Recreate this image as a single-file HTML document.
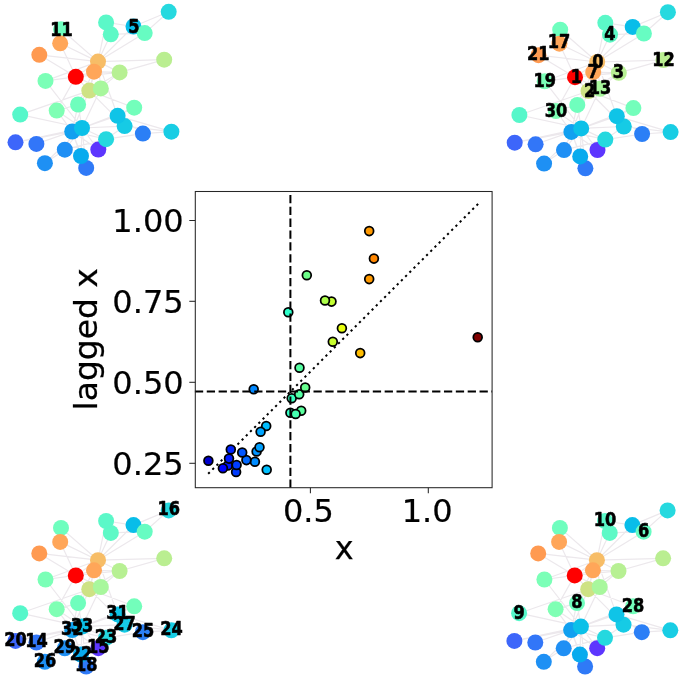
<!DOCTYPE html>
<html lang="en">
<head>
<meta charset="utf-8">
<title>lagged x vs x</title>
<style>
html,body{margin:0;padding:0;background:#fff;}
body{width:685px;height:679px;overflow:hidden;}
svg{display:block;filter:blur(0.5px);}
text{font-family:"DejaVu Sans","Liberation Sans",sans-serif;fill:#000;}
.nl text{font-weight:bold;font-size:16.2px;text-anchor:middle;stroke:#000;stroke-width:0.5px;stroke-linejoin:round;}
.tk text{font-size:32.0px;stroke:#000;stroke-width:0.25px;}
</style>
</head>
<body>
<svg width="685" height="679" viewBox="0 0 685 679">
<rect width="685" height="679" fill="#fff"/>
<g transform="translate(0.0 0.0)">
<g stroke="#ece8ec" stroke-width="1.20" fill="none">
<path d="M98.0 61.6L75.8 76.8M98.0 61.6L89.3 90.6M98.0 61.6L119.6 72.4M98.0 61.6L110.8 34.3M98.0 61.6L133.5 26.5M98.0 61.6L144.7 33.1M98.0 61.6L94.0 71.7M98.0 61.6L78.1 104.5M98.0 61.6L106.1 22.4M98.0 61.6L61.0 29.3M98.0 61.6L164.2 59.7M98.0 61.6L100.8 88.4M98.0 61.6L60.2 43.3M98.0 61.6L45.5 80.9M98.0 61.6L39.3 54.8M98.0 61.6L117.6 115.8M75.8 76.8L89.3 90.6M75.8 76.8L119.6 72.4M75.8 76.8L94.0 71.7M75.8 76.8L100.8 88.4M75.8 76.8L60.2 43.3M75.8 76.8L45.5 80.9M75.8 76.8L39.3 54.8M75.8 76.8L56.7 110.6M89.3 90.6L119.6 72.4M89.3 90.6L94.0 71.7M89.3 90.6L78.1 104.5M89.3 90.6L20.2 114.6M89.3 90.6L100.8 88.4M89.3 90.6L124.6 126.1M89.3 90.6L134.2 107.7M89.3 90.6L72.2 131.5M119.6 72.4L94.0 71.7M119.6 72.4L164.2 59.7M119.6 72.4L100.8 88.4M110.8 34.3L144.7 33.1M110.8 34.3L106.1 22.4M133.5 26.5L144.7 33.1M133.5 26.5L106.1 22.4M133.5 26.5L168.7 11.8M144.7 33.1L168.7 11.8M78.1 104.5L56.7 110.6M78.1 104.5L72.2 131.5M78.1 104.5L82.0 128.0M20.2 114.6L82.0 128.0M100.8 88.4L82.0 128.0M36.4 143.9L72.2 131.5M36.4 143.9L82.0 128.0M98.3 149.6L72.2 131.5M98.3 149.6L82.0 128.0M86.2 167.9L72.2 131.5M86.2 167.9L82.0 128.0M45.5 80.9L82.0 128.0M15.5 142.3L72.2 131.5M15.5 142.3L82.0 128.0M81.0 156.0L72.2 131.5M81.0 156.0L82.0 128.0M106.1 139.2L142.9 133.6M106.1 139.2L124.6 126.1M106.1 139.2L64.8 149.7M106.1 139.2L72.2 131.5M106.1 139.2L82.0 128.0M171.4 131.7L142.9 133.6M171.4 131.7L124.6 126.1M171.4 131.7L117.6 115.8M142.9 133.6L117.6 115.8M44.9 163.2L64.8 149.7M44.9 163.2L82.0 128.0M124.6 126.1L82.0 128.0M134.2 107.7L117.6 115.8M134.2 107.7L82.0 128.0M64.8 149.7L72.2 131.5M64.8 149.7L82.0 128.0M56.7 110.6L72.2 131.5M56.7 110.6L82.0 128.0M117.6 115.8L72.2 131.5M117.6 115.8L82.0 128.0M72.2 131.5L82.0 128.0"/>
</g>
<circle cx="98.0" cy="61.6" r="8.0" fill="#f7bd67"/>
<circle cx="75.8" cy="76.8" r="8.0" fill="#ff0000"/>
<circle cx="89.3" cy="90.6" r="8.0" fill="#cee284"/>
<circle cx="119.6" cy="72.4" r="8.0" fill="#b7f093"/>
<circle cx="110.8" cy="34.3" r="8.0" fill="#5df9c6"/>
<circle cx="133.5" cy="26.5" r="8.0" fill="#08bde9"/>
<circle cx="144.7" cy="33.1" r="8.0" fill="#67fcc2"/>
<circle cx="94.0" cy="71.7" r="8.0" fill="#ffa659"/>
<circle cx="78.1" cy="104.5" r="8.0" fill="#6ffebd"/>
<circle cx="20.2" cy="114.6" r="8.0" fill="#56f7ca"/>
<circle cx="106.1" cy="22.4" r="8.0" fill="#5bf8c8"/>
<circle cx="61.0" cy="29.3" r="8.0" fill="#6efebe"/>
<circle cx="164.2" cy="59.7" r="8.0" fill="#baee91"/>
<circle cx="100.8" cy="88.4" r="8.0" fill="#a8f79d"/>
<circle cx="36.4" cy="143.9" r="8.0" fill="#3276f8"/>
<circle cx="98.3" cy="149.6" r="8.0" fill="#5d36fe"/>
<circle cx="168.7" cy="11.8" r="8.0" fill="#26d9df"/>
<circle cx="60.2" cy="43.3" r="8.0" fill="#ffa659"/>
<circle cx="86.2" cy="167.9" r="8.0" fill="#2f7af7"/>
<circle cx="45.5" cy="80.9" r="8.0" fill="#7bffb7"/>
<circle cx="15.5" cy="142.3" r="8.0" fill="#3d66fa"/>
<circle cx="39.3" cy="54.8" r="8.0" fill="#ff9a51"/>
<circle cx="81.0" cy="156.0" r="8.0" fill="#08abee"/>
<circle cx="106.1" cy="139.2" r="8.0" fill="#25d8df"/>
<circle cx="171.4" cy="131.7" r="8.0" fill="#18cde4"/>
<circle cx="142.9" cy="133.6" r="8.0" fill="#2b7ff6"/>
<circle cx="44.9" cy="163.2" r="8.0" fill="#1e90f4"/>
<circle cx="124.6" cy="126.1" r="8.0" fill="#16cbe5"/>
<circle cx="134.2" cy="107.7" r="8.0" fill="#73febb"/>
<circle cx="64.8" cy="149.7" r="8.0" fill="#1f8ff4"/>
<circle cx="56.7" cy="110.6" r="8.0" fill="#7fffb4"/>
<circle cx="117.6" cy="115.8" r="8.0" fill="#0fc4e7"/>
<circle cx="72.2" cy="131.5" r="8.0" fill="#11a0f0"/>
<circle cx="82.0" cy="128.0" r="8.0" fill="#0bc0e8"/>
<g class="nl">
<text transform="translate(61.5 36.2) scale(1 1.160)">11</text>
<text transform="translate(134.0 33.2) scale(1 1.160)">5</text>
</g>
</g>
<g transform="translate(499.2 0.4)">
<g stroke="#ece8ec" stroke-width="1.20" fill="none">
<path d="M98.0 61.6L75.8 76.8M98.0 61.6L89.3 90.6M98.0 61.6L119.6 72.4M98.0 61.6L110.8 34.3M98.0 61.6L133.5 26.5M98.0 61.6L144.7 33.1M98.0 61.6L94.0 71.7M98.0 61.6L78.1 104.5M98.0 61.6L106.1 22.4M98.0 61.6L61.0 29.3M98.0 61.6L164.2 59.7M98.0 61.6L100.8 88.4M98.0 61.6L60.2 43.3M98.0 61.6L45.5 80.9M98.0 61.6L39.3 54.8M98.0 61.6L117.6 115.8M75.8 76.8L89.3 90.6M75.8 76.8L119.6 72.4M75.8 76.8L94.0 71.7M75.8 76.8L100.8 88.4M75.8 76.8L60.2 43.3M75.8 76.8L45.5 80.9M75.8 76.8L39.3 54.8M75.8 76.8L56.7 110.6M89.3 90.6L119.6 72.4M89.3 90.6L94.0 71.7M89.3 90.6L78.1 104.5M89.3 90.6L20.2 114.6M89.3 90.6L100.8 88.4M89.3 90.6L124.6 126.1M89.3 90.6L134.2 107.7M89.3 90.6L72.2 131.5M119.6 72.4L94.0 71.7M119.6 72.4L164.2 59.7M119.6 72.4L100.8 88.4M110.8 34.3L144.7 33.1M110.8 34.3L106.1 22.4M133.5 26.5L144.7 33.1M133.5 26.5L106.1 22.4M133.5 26.5L168.7 11.8M144.7 33.1L168.7 11.8M78.1 104.5L56.7 110.6M78.1 104.5L72.2 131.5M78.1 104.5L82.0 128.0M20.2 114.6L82.0 128.0M100.8 88.4L82.0 128.0M36.4 143.9L72.2 131.5M36.4 143.9L82.0 128.0M98.3 149.6L72.2 131.5M98.3 149.6L82.0 128.0M86.2 167.9L72.2 131.5M86.2 167.9L82.0 128.0M45.5 80.9L82.0 128.0M15.5 142.3L72.2 131.5M15.5 142.3L82.0 128.0M81.0 156.0L72.2 131.5M81.0 156.0L82.0 128.0M106.1 139.2L142.9 133.6M106.1 139.2L124.6 126.1M106.1 139.2L64.8 149.7M106.1 139.2L72.2 131.5M106.1 139.2L82.0 128.0M171.4 131.7L142.9 133.6M171.4 131.7L124.6 126.1M171.4 131.7L117.6 115.8M142.9 133.6L117.6 115.8M44.9 163.2L64.8 149.7M44.9 163.2L82.0 128.0M124.6 126.1L82.0 128.0M134.2 107.7L117.6 115.8M134.2 107.7L82.0 128.0M64.8 149.7L72.2 131.5M64.8 149.7L82.0 128.0M56.7 110.6L72.2 131.5M56.7 110.6L82.0 128.0M117.6 115.8L72.2 131.5M117.6 115.8L82.0 128.0M72.2 131.5L82.0 128.0"/>
</g>
<circle cx="98.0" cy="61.6" r="8.0" fill="#f7bd67"/>
<circle cx="75.8" cy="76.8" r="8.0" fill="#ff0000"/>
<circle cx="89.3" cy="90.6" r="8.0" fill="#cee284"/>
<circle cx="119.6" cy="72.4" r="8.0" fill="#b7f093"/>
<circle cx="110.8" cy="34.3" r="8.0" fill="#5df9c6"/>
<circle cx="133.5" cy="26.5" r="8.0" fill="#08bde9"/>
<circle cx="144.7" cy="33.1" r="8.0" fill="#67fcc2"/>
<circle cx="94.0" cy="71.7" r="8.0" fill="#ffa659"/>
<circle cx="78.1" cy="104.5" r="8.0" fill="#6ffebd"/>
<circle cx="20.2" cy="114.6" r="8.0" fill="#56f7ca"/>
<circle cx="106.1" cy="22.4" r="8.0" fill="#5bf8c8"/>
<circle cx="61.0" cy="29.3" r="8.0" fill="#6efebe"/>
<circle cx="164.2" cy="59.7" r="8.0" fill="#baee91"/>
<circle cx="100.8" cy="88.4" r="8.0" fill="#a8f79d"/>
<circle cx="36.4" cy="143.9" r="8.0" fill="#3276f8"/>
<circle cx="98.3" cy="149.6" r="8.0" fill="#5d36fe"/>
<circle cx="168.7" cy="11.8" r="8.0" fill="#26d9df"/>
<circle cx="60.2" cy="43.3" r="8.0" fill="#ffa659"/>
<circle cx="86.2" cy="167.9" r="8.0" fill="#2f7af7"/>
<circle cx="45.5" cy="80.9" r="8.0" fill="#7bffb7"/>
<circle cx="15.5" cy="142.3" r="8.0" fill="#3d66fa"/>
<circle cx="39.3" cy="54.8" r="8.0" fill="#ff9a51"/>
<circle cx="81.0" cy="156.0" r="8.0" fill="#08abee"/>
<circle cx="106.1" cy="139.2" r="8.0" fill="#25d8df"/>
<circle cx="171.4" cy="131.7" r="8.0" fill="#18cde4"/>
<circle cx="142.9" cy="133.6" r="8.0" fill="#2b7ff6"/>
<circle cx="44.9" cy="163.2" r="8.0" fill="#1e90f4"/>
<circle cx="124.6" cy="126.1" r="8.0" fill="#16cbe5"/>
<circle cx="134.2" cy="107.7" r="8.0" fill="#73febb"/>
<circle cx="64.8" cy="149.7" r="8.0" fill="#1f8ff4"/>
<circle cx="56.7" cy="110.6" r="8.0" fill="#7fffb4"/>
<circle cx="117.6" cy="115.8" r="8.0" fill="#0fc4e7"/>
<circle cx="72.2" cy="131.5" r="8.0" fill="#11a0f0"/>
<circle cx="82.0" cy="128.0" r="8.0" fill="#0bc0e8"/>
<g class="nl">
<text transform="translate(98.8 67.1) scale(1 1.160)">0</text>
<text transform="translate(77.1 82.3) scale(1 1.160)">1</text>
<text transform="translate(90.5 96.1) scale(1 1.160)">2</text>
<text transform="translate(119.1 77.9) scale(1 1.160)">3</text>
<text transform="translate(110.8 39.8) scale(1 1.160)">4</text>
<text transform="translate(94.0 77.2) scale(1 1.160)">7</text>
<text transform="translate(164.2 65.2) scale(1 1.160)">12</text>
<text transform="translate(100.8 93.9) scale(1 1.160)">13</text>
<text transform="translate(59.9 47.9) scale(1 1.160)">17</text>
<text transform="translate(45.5 86.4) scale(1 1.160)">19</text>
<text transform="translate(39.1 59.4) scale(1 1.160)">21</text>
<text transform="translate(56.7 116.1) scale(1 1.160)">30</text>
</g>
</g>
<g transform="translate(0.0 498.6)">
<g stroke="#ece8ec" stroke-width="1.20" fill="none">
<path d="M98.0 61.6L75.8 76.8M98.0 61.6L89.3 90.6M98.0 61.6L119.6 72.4M98.0 61.6L110.8 34.3M98.0 61.6L133.5 26.5M98.0 61.6L144.7 33.1M98.0 61.6L94.0 71.7M98.0 61.6L78.1 104.5M98.0 61.6L106.1 22.4M98.0 61.6L61.0 29.3M98.0 61.6L164.2 59.7M98.0 61.6L100.8 88.4M98.0 61.6L60.2 43.3M98.0 61.6L45.5 80.9M98.0 61.6L39.3 54.8M98.0 61.6L117.6 115.8M75.8 76.8L89.3 90.6M75.8 76.8L119.6 72.4M75.8 76.8L94.0 71.7M75.8 76.8L100.8 88.4M75.8 76.8L60.2 43.3M75.8 76.8L45.5 80.9M75.8 76.8L39.3 54.8M75.8 76.8L56.7 110.6M89.3 90.6L119.6 72.4M89.3 90.6L94.0 71.7M89.3 90.6L78.1 104.5M89.3 90.6L20.2 114.6M89.3 90.6L100.8 88.4M89.3 90.6L124.6 126.1M89.3 90.6L134.2 107.7M89.3 90.6L72.2 131.5M119.6 72.4L94.0 71.7M119.6 72.4L164.2 59.7M119.6 72.4L100.8 88.4M110.8 34.3L144.7 33.1M110.8 34.3L106.1 22.4M133.5 26.5L144.7 33.1M133.5 26.5L106.1 22.4M133.5 26.5L168.7 11.8M144.7 33.1L168.7 11.8M78.1 104.5L56.7 110.6M78.1 104.5L72.2 131.5M78.1 104.5L82.0 128.0M20.2 114.6L82.0 128.0M100.8 88.4L82.0 128.0M36.4 143.9L72.2 131.5M36.4 143.9L82.0 128.0M98.3 149.6L72.2 131.5M98.3 149.6L82.0 128.0M86.2 167.9L72.2 131.5M86.2 167.9L82.0 128.0M45.5 80.9L82.0 128.0M15.5 142.3L72.2 131.5M15.5 142.3L82.0 128.0M81.0 156.0L72.2 131.5M81.0 156.0L82.0 128.0M106.1 139.2L142.9 133.6M106.1 139.2L124.6 126.1M106.1 139.2L64.8 149.7M106.1 139.2L72.2 131.5M106.1 139.2L82.0 128.0M171.4 131.7L142.9 133.6M171.4 131.7L124.6 126.1M171.4 131.7L117.6 115.8M142.9 133.6L117.6 115.8M44.9 163.2L64.8 149.7M44.9 163.2L82.0 128.0M124.6 126.1L82.0 128.0M134.2 107.7L117.6 115.8M134.2 107.7L82.0 128.0M64.8 149.7L72.2 131.5M64.8 149.7L82.0 128.0M56.7 110.6L72.2 131.5M56.7 110.6L82.0 128.0M117.6 115.8L72.2 131.5M117.6 115.8L82.0 128.0M72.2 131.5L82.0 128.0"/>
</g>
<circle cx="98.0" cy="61.6" r="8.0" fill="#f7bd67"/>
<circle cx="75.8" cy="76.8" r="8.0" fill="#ff0000"/>
<circle cx="89.3" cy="90.6" r="8.0" fill="#cee284"/>
<circle cx="119.6" cy="72.4" r="8.0" fill="#b7f093"/>
<circle cx="110.8" cy="34.3" r="8.0" fill="#5df9c6"/>
<circle cx="133.5" cy="26.5" r="8.0" fill="#08bde9"/>
<circle cx="144.7" cy="33.1" r="8.0" fill="#67fcc2"/>
<circle cx="94.0" cy="71.7" r="8.0" fill="#ffa659"/>
<circle cx="78.1" cy="104.5" r="8.0" fill="#6ffebd"/>
<circle cx="20.2" cy="114.6" r="8.0" fill="#56f7ca"/>
<circle cx="106.1" cy="22.4" r="8.0" fill="#5bf8c8"/>
<circle cx="61.0" cy="29.3" r="8.0" fill="#6efebe"/>
<circle cx="164.2" cy="59.7" r="8.0" fill="#baee91"/>
<circle cx="100.8" cy="88.4" r="8.0" fill="#a8f79d"/>
<circle cx="36.4" cy="143.9" r="8.0" fill="#3276f8"/>
<circle cx="98.3" cy="149.6" r="8.0" fill="#5d36fe"/>
<circle cx="168.7" cy="11.8" r="8.0" fill="#26d9df"/>
<circle cx="60.2" cy="43.3" r="8.0" fill="#ffa659"/>
<circle cx="86.2" cy="167.9" r="8.0" fill="#2f7af7"/>
<circle cx="45.5" cy="80.9" r="8.0" fill="#7bffb7"/>
<circle cx="15.5" cy="142.3" r="8.0" fill="#3d66fa"/>
<circle cx="39.3" cy="54.8" r="8.0" fill="#ff9a51"/>
<circle cx="81.0" cy="156.0" r="8.0" fill="#08abee"/>
<circle cx="106.1" cy="139.2" r="8.0" fill="#25d8df"/>
<circle cx="171.4" cy="131.7" r="8.0" fill="#18cde4"/>
<circle cx="142.9" cy="133.6" r="8.0" fill="#2b7ff6"/>
<circle cx="44.9" cy="163.2" r="8.0" fill="#1e90f4"/>
<circle cx="124.6" cy="126.1" r="8.0" fill="#16cbe5"/>
<circle cx="134.2" cy="107.7" r="8.0" fill="#73febb"/>
<circle cx="64.8" cy="149.7" r="8.0" fill="#1f8ff4"/>
<circle cx="56.7" cy="110.6" r="8.0" fill="#7fffb4"/>
<circle cx="117.6" cy="115.8" r="8.0" fill="#0fc4e7"/>
<circle cx="72.2" cy="131.5" r="8.0" fill="#11a0f0"/>
<circle cx="82.0" cy="128.0" r="8.0" fill="#0bc0e8"/>
<g class="nl">
<text transform="translate(36.4 148.8) scale(1 1.160)">14</text>
<text transform="translate(98.3 154.5) scale(1 1.160)">15</text>
<text transform="translate(168.7 16.7) scale(1 1.160)">16</text>
<text transform="translate(86.2 172.8) scale(1 1.160)">18</text>
<text transform="translate(15.5 147.2) scale(1 1.160)">20</text>
<text transform="translate(81.0 160.9) scale(1 1.160)">22</text>
<text transform="translate(106.1 144.1) scale(1 1.160)">23</text>
<text transform="translate(171.4 136.6) scale(1 1.160)">24</text>
<text transform="translate(142.9 138.5) scale(1 1.160)">25</text>
<text transform="translate(44.9 168.1) scale(1 1.160)">26</text>
<text transform="translate(124.6 131.0) scale(1 1.160)">27</text>
<text transform="translate(64.8 154.6) scale(1 1.160)">29</text>
<text transform="translate(117.6 120.7) scale(1 1.160)">31</text>
<text transform="translate(72.2 136.4) scale(1 1.160)">32</text>
<text transform="translate(82.0 132.9) scale(1 1.160)">33</text>
</g>
</g>
<g transform="translate(498.9 498.6)">
<g stroke="#ece8ec" stroke-width="1.20" fill="none">
<path d="M98.0 61.6L75.8 76.8M98.0 61.6L89.3 90.6M98.0 61.6L119.6 72.4M98.0 61.6L110.8 34.3M98.0 61.6L133.5 26.5M98.0 61.6L144.7 33.1M98.0 61.6L94.0 71.7M98.0 61.6L78.1 104.5M98.0 61.6L106.1 22.4M98.0 61.6L61.0 29.3M98.0 61.6L164.2 59.7M98.0 61.6L100.8 88.4M98.0 61.6L60.2 43.3M98.0 61.6L45.5 80.9M98.0 61.6L39.3 54.8M98.0 61.6L117.6 115.8M75.8 76.8L89.3 90.6M75.8 76.8L119.6 72.4M75.8 76.8L94.0 71.7M75.8 76.8L100.8 88.4M75.8 76.8L60.2 43.3M75.8 76.8L45.5 80.9M75.8 76.8L39.3 54.8M75.8 76.8L56.7 110.6M89.3 90.6L119.6 72.4M89.3 90.6L94.0 71.7M89.3 90.6L78.1 104.5M89.3 90.6L20.2 114.6M89.3 90.6L100.8 88.4M89.3 90.6L124.6 126.1M89.3 90.6L134.2 107.7M89.3 90.6L72.2 131.5M119.6 72.4L94.0 71.7M119.6 72.4L164.2 59.7M119.6 72.4L100.8 88.4M110.8 34.3L144.7 33.1M110.8 34.3L106.1 22.4M133.5 26.5L144.7 33.1M133.5 26.5L106.1 22.4M133.5 26.5L168.7 11.8M144.7 33.1L168.7 11.8M78.1 104.5L56.7 110.6M78.1 104.5L72.2 131.5M78.1 104.5L82.0 128.0M20.2 114.6L82.0 128.0M100.8 88.4L82.0 128.0M36.4 143.9L72.2 131.5M36.4 143.9L82.0 128.0M98.3 149.6L72.2 131.5M98.3 149.6L82.0 128.0M86.2 167.9L72.2 131.5M86.2 167.9L82.0 128.0M45.5 80.9L82.0 128.0M15.5 142.3L72.2 131.5M15.5 142.3L82.0 128.0M81.0 156.0L72.2 131.5M81.0 156.0L82.0 128.0M106.1 139.2L142.9 133.6M106.1 139.2L124.6 126.1M106.1 139.2L64.8 149.7M106.1 139.2L72.2 131.5M106.1 139.2L82.0 128.0M171.4 131.7L142.9 133.6M171.4 131.7L124.6 126.1M171.4 131.7L117.6 115.8M142.9 133.6L117.6 115.8M44.9 163.2L64.8 149.7M44.9 163.2L82.0 128.0M124.6 126.1L82.0 128.0M134.2 107.7L117.6 115.8M134.2 107.7L82.0 128.0M64.8 149.7L72.2 131.5M64.8 149.7L82.0 128.0M56.7 110.6L72.2 131.5M56.7 110.6L82.0 128.0M117.6 115.8L72.2 131.5M117.6 115.8L82.0 128.0M72.2 131.5L82.0 128.0"/>
</g>
<circle cx="98.0" cy="61.6" r="8.0" fill="#f7bd67"/>
<circle cx="75.8" cy="76.8" r="8.0" fill="#ff0000"/>
<circle cx="89.3" cy="90.6" r="8.0" fill="#cee284"/>
<circle cx="119.6" cy="72.4" r="8.0" fill="#b7f093"/>
<circle cx="110.8" cy="34.3" r="8.0" fill="#5df9c6"/>
<circle cx="133.5" cy="26.5" r="8.0" fill="#08bde9"/>
<circle cx="144.7" cy="33.1" r="8.0" fill="#67fcc2"/>
<circle cx="94.0" cy="71.7" r="8.0" fill="#ffa659"/>
<circle cx="78.1" cy="104.5" r="8.0" fill="#6ffebd"/>
<circle cx="20.2" cy="114.6" r="8.0" fill="#56f7ca"/>
<circle cx="106.1" cy="22.4" r="8.0" fill="#5bf8c8"/>
<circle cx="61.0" cy="29.3" r="8.0" fill="#6efebe"/>
<circle cx="164.2" cy="59.7" r="8.0" fill="#baee91"/>
<circle cx="100.8" cy="88.4" r="8.0" fill="#a8f79d"/>
<circle cx="36.4" cy="143.9" r="8.0" fill="#3276f8"/>
<circle cx="98.3" cy="149.6" r="8.0" fill="#5d36fe"/>
<circle cx="168.7" cy="11.8" r="8.0" fill="#26d9df"/>
<circle cx="60.2" cy="43.3" r="8.0" fill="#ffa659"/>
<circle cx="86.2" cy="167.9" r="8.0" fill="#2f7af7"/>
<circle cx="45.5" cy="80.9" r="8.0" fill="#7bffb7"/>
<circle cx="15.5" cy="142.3" r="8.0" fill="#3d66fa"/>
<circle cx="39.3" cy="54.8" r="8.0" fill="#ff9a51"/>
<circle cx="81.0" cy="156.0" r="8.0" fill="#08abee"/>
<circle cx="106.1" cy="139.2" r="8.0" fill="#25d8df"/>
<circle cx="171.4" cy="131.7" r="8.0" fill="#18cde4"/>
<circle cx="142.9" cy="133.6" r="8.0" fill="#2b7ff6"/>
<circle cx="44.9" cy="163.2" r="8.0" fill="#1e90f4"/>
<circle cx="124.6" cy="126.1" r="8.0" fill="#16cbe5"/>
<circle cx="134.2" cy="107.7" r="8.0" fill="#73febb"/>
<circle cx="64.8" cy="149.7" r="8.0" fill="#1f8ff4"/>
<circle cx="56.7" cy="110.6" r="8.0" fill="#7fffb4"/>
<circle cx="117.6" cy="115.8" r="8.0" fill="#0fc4e7"/>
<circle cx="72.2" cy="131.5" r="8.0" fill="#11a0f0"/>
<circle cx="82.0" cy="128.0" r="8.0" fill="#0bc0e8"/>
<g class="nl">
<text transform="translate(144.7 38.4) scale(1 1.160)">6</text>
<text transform="translate(78.1 109.8) scale(1 1.160)">8</text>
<text transform="translate(20.2 119.9) scale(1 1.160)">9</text>
<text transform="translate(106.1 27.7) scale(1 1.160)">10</text>
<text transform="translate(134.2 113.0) scale(1 1.160)">28</text>
</g>
</g>
<rect x="195.3" y="191.5" width="296.8" height="296.2" fill="#fff" stroke="none"/>
<path d="M208.0 474.0L478.6 203.4" stroke="#000" stroke-width="2.00" fill="none" stroke-dasharray="2.24 3.69" stroke-dashoffset="-0.25"/>
<g stroke="#000" stroke-width="1.75">
<circle cx="208.4" cy="460.7" r="4.4" fill="#0000cb"/>
<circle cx="227.8" cy="465.4" r="4.4" fill="#0017ff"/>
<circle cx="222.9" cy="468.3" r="4.4" fill="#0002ff"/>
<circle cx="230.8" cy="449.4" r="4.4" fill="#0024ff"/>
<circle cx="229.0" cy="458.6" r="4.4" fill="#001cff"/>
<circle cx="236.1" cy="471.9" r="4.4" fill="#003bff"/>
<circle cx="236.6" cy="465.0" r="4.4" fill="#003dff"/>
<circle cx="254.9" cy="461.8" r="4.4" fill="#008cff"/>
<circle cx="246.4" cy="460.1" r="4.4" fill="#0068ff"/>
<circle cx="242.2" cy="452.4" r="4.4" fill="#0056ff"/>
<circle cx="253.7" cy="389.2" r="4.4" fill="#0087ff"/>
<circle cx="256.6" cy="451.4" r="4.4" fill="#0094ff"/>
<circle cx="259.5" cy="447.3" r="4.4" fill="#00a0ff"/>
<circle cx="266.2" cy="425.9" r="4.4" fill="#00bdff"/>
<circle cx="260.6" cy="431.7" r="4.4" fill="#00a5ff"/>
<circle cx="266.7" cy="469.7" r="4.4" fill="#00c0ff"/>
<circle cx="288.3" cy="312.3" r="4.4" fill="#2dffca"/>
<circle cx="290.4" cy="412.8" r="4.4" fill="#34ffc3"/>
<circle cx="301.2" cy="410.7" r="4.4" fill="#5aff9d"/>
<circle cx="295.6" cy="414.0" r="4.4" fill="#46ffb0"/>
<circle cx="291.7" cy="398.2" r="4.4" fill="#39ffbe"/>
<circle cx="299.2" cy="394.3" r="4.4" fill="#53ffa4"/>
<circle cx="305.2" cy="387.5" r="4.4" fill="#68ff8f"/>
<circle cx="299.5" cy="367.7" r="4.4" fill="#54ffa3"/>
<circle cx="306.8" cy="275.2" r="4.4" fill="#6dff89"/>
<circle cx="331.5" cy="301.6" r="4.4" fill="#c4ff33"/>
<circle cx="325.0" cy="300.5" r="4.4" fill="#adff4a"/>
<circle cx="332.8" cy="341.8" r="4.4" fill="#c8ff2f"/>
<circle cx="341.9" cy="328.3" r="4.4" fill="#e8ff0f"/>
<circle cx="360.2" cy="353.1" r="4.4" fill="#ffbd00"/>
<circle cx="369.2" cy="279.1" r="4.4" fill="#ff9900"/>
<circle cx="369.2" cy="231.1" r="4.4" fill="#ff9900"/>
<circle cx="373.9" cy="258.6" r="4.4" fill="#ff8600"/>
<circle cx="477.7" cy="337.2" r="4.4" fill="#800000"/>
</g>
<g stroke="#000" stroke-width="2.00" fill="none" stroke-dasharray="8.28 3.58">
<path d="M290.4 487.8V191.5"/>
<path d="M194.9 391.6H492.1"/>
</g>
<g stroke="#262626" stroke-width="1.05" fill="none">
<rect x="195.3" y="191.5" width="296.8" height="296.2"/>
<path d="M195.3 220.5h-6"/>
<path d="M195.3 301.3h-6"/>
<path d="M195.3 382.3h-6"/>
<path d="M195.3 463.3h-6"/>
<path d="M310.4 487.7v5.6"/>
<path d="M428.3 487.7v5.6"/>
</g>
<g class="tk">
<text transform="translate(183.6 232.2) scale(1 0.975)" text-anchor="end">1.00</text>
<text transform="translate(183.6 313.0) scale(1 0.975)" text-anchor="end">0.75</text>
<text transform="translate(183.6 394.0) scale(1 0.975)" text-anchor="end">0.50</text>
<text transform="translate(183.6 475.0) scale(1 0.975)" text-anchor="end">0.25</text>
<text transform="translate(308.4 522.2) scale(1 0.975)" text-anchor="middle">0.5</text>
<text transform="translate(427.1 522.2) scale(1 0.975)" text-anchor="middle">1.0</text>
<text x="344.2" y="559.0" text-anchor="middle">x</text>
<text transform="translate(97.2 339.3) rotate(-90) scale(1.03 1)" text-anchor="middle">lagged x</text>
</g>
</svg>
</body>
</html>
